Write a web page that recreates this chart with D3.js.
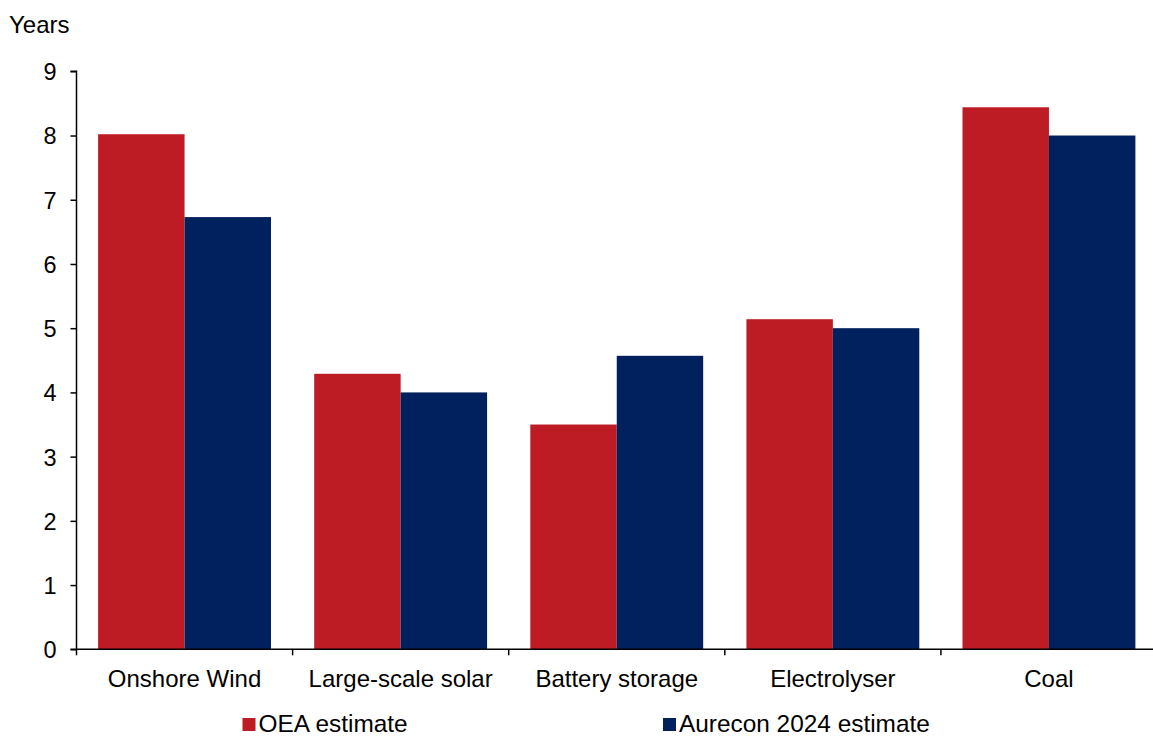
<!DOCTYPE html>
<html>
<head>
<meta charset="utf-8">
<script src="https://cdn.jsdelivr.net/npm/d3@7"></script>
<style>
  html, body { margin: 0; padding: 0; background: #fff; }
  svg { display: block; font-family: "Liberation Sans", Arial, sans-serif; }
</style>
</head>
<body>
<svg id="chart" width="1153" height="736"></svg>
<script>
// Years to build, by technology
const categories = ["Onshore Wind", "Large-scale solar", "Battery storage", "Electrolyser", "Coal"];
const seriesNames = ["OEA estimate", "Aurecon 2024 estimate"];
const oeaValues = [8.02, 4.29, 3.5, 5.14, 8.44];
const aureconValues = [6.73, 4.0, 4.57, 5.0, 8.0];
const yTicks = [0, 1, 2, 3, 4, 5, 6, 7, 8, 9];
const colors = ["#BE1C24", "#00215E"];

const svg = d3.select("#chart");
const margin = { left: 76.5, right: 1157, top: 71.3, bottom: 649.3 };

// each category occupies an equal slot; bars fill the middle 80%
const slot = (margin.right - margin.left) / categories.length;
const x = cat => margin.left + categories.indexOf(cat) * slot;

const x1 = d3.scaleBand().domain(seriesNames).range([0, slot * 0.8]);

const y = d3.scaleLinear().domain([0, 9]).range([margin.bottom, margin.top]);

const rows = categories.map((c, i) => ({ cat: c, values: [oeaValues[i], aureconValues[i]] }));

// bars
const g = svg.append("g");
g.selectAll("g.cat")
  .data(rows)
  .join("g")
  .attr("class", "cat")
  .attr("transform", d => `translate(${x(d.cat) + slot * 0.1},0)`)
  .selectAll("rect")
  .data(d => d.values.map((v, i) => ({ s: seriesNames[i], v, i })))
  .join("rect")
  .attr("x", d => x1(d.s))
  .attr("width", x1.bandwidth())
  .attr("y", d => y(d.v))
  .attr("height", d => y(0) - y(d.v))
  .attr("fill", d => colors[d.i]);

// y axis
const yAxis = d3.axisLeft(y).tickValues(yTicks).tickSize(6).tickPadding(14).tickFormat(d3.format("d"));
const ya = svg.append("g").attr("transform", `translate(${margin.left},0)`).call(yAxis);
ya.select(".domain").attr("stroke", "#000").attr("stroke-width", 1.5).attr("d", `M-6,${margin.top}H0V${margin.bottom}`);
ya.selectAll(".tick line").attr("stroke", "#000").attr("stroke-width", 1.5);
ya.selectAll(".tick text").attr("font-size", 23.5).attr("fill", "#000").attr("dy", "0.36em")
  .attr("font-family", "'Liberation Sans', Arial, sans-serif");

// x axis: ticks between categories
const xa = svg.append("g").attr("transform", `translate(0,${margin.bottom})`);
xa.append("line")
  .attr("x1", margin.left - 6).attr("x2", margin.right)
  .attr("stroke", "#000").attr("stroke-width", 1.5);
const bounds = d3.range(categories.length + 1).map(i => margin.left + i * slot);
xa.selectAll("line.tick")
  .data(bounds)
  .join("line")
  .attr("class", "tick")
  .attr("x1", d => d).attr("x2", d => d)
  .attr("y1", 0).attr("y2", 6)
  .attr("stroke", "#000").attr("stroke-width", 1.5);
xa.selectAll("text")
  .data(categories)
  .join("text")
  .attr("x", d => x(d) + slot / 2)
  .attr("y", 37.5)
  .attr("text-anchor", "middle")
  .attr("font-size", 24)
  .attr("fill", "#000")
  .text(d => d);

// unit label
svg.append("text").attr("x", 9).attr("y", 33).attr("font-size", 24).attr("fill", "#000").text("Years");

// legend
const legendX = [242.5, 663];
const lg = svg.append("g");
seriesNames.forEach((name, i) => {
  lg.append("rect").attr("x", legendX[i]).attr("y", 718).attr("width", 13).attr("height", 13).attr("fill", colors[i]);
  lg.append("text").attr("x", legendX[i] + 16).attr("y", 732).attr("font-size", 24.4).attr("fill", "#000").text(name);
});
</script>
</body>
</html>
